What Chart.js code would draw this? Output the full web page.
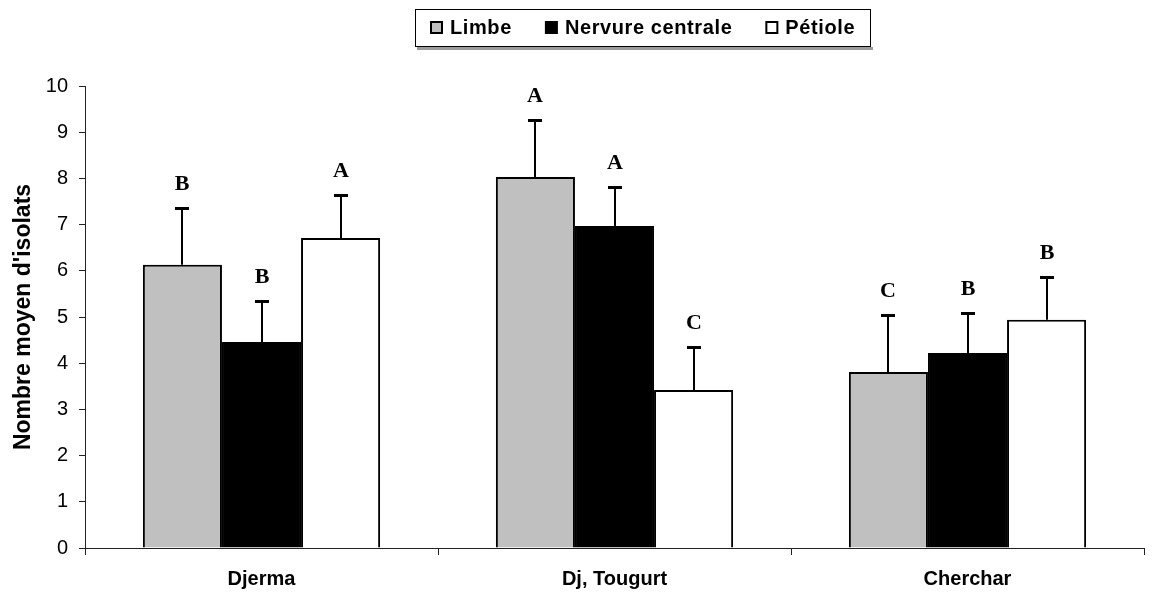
<!DOCTYPE html>
<html>
<head>
<meta charset="utf-8">
<script src="https://cdn.jsdelivr.net/npm/chart.js@4.4.1/dist/chart.umd.min.js"></script>
<style>
  html, body { margin: 0; padding: 0; background: #ffffff; }
  #wrap { width: 1158px; height: 595px; }
</style>
</head>
<body>
<div id="wrap"><canvas id="chart" width="1158" height="595"></canvas></div>
<script>
// Sites sampled and the three leaf parts analysed
const categories = ['Djerma', 'Dj, Tougurt', 'Cherchar'];
const seriesNames = ['Limbe', 'Nervure centrale', 'Pétiole'];

// Mean number of isolates per leaf part
const limbe = [6.13, 8.03, 3.81];
const nervure = [4.46, 6.97, 4.22];
const petiole = [6.71, 3.42, 4.94];

// Upper error (standard deviation) for each mean
const limbeErr = [1.23, 1.23, 1.23];
const nervureErr = [0.89, 0.84, 0.87];
const petioleErr = [0.93, 0.93, 0.93];

// Homogeneous-group letters printed above each bar
const limbeGroups = ['B', 'A', 'C'];
const nervureGroups = ['B', 'A', 'B'];
const petioleGroups = ['A', 'C', 'B'];

// Value axis tick labels
const yTicks = [0, 1, 2, 3, 4, 5, 6, 7, 8, 9, 10];

const SANS = '"Liberation Sans", Arial, sans-serif';
const SERIF = '"Liberation Serif", "Times New Roman", serif';

// Upper error whiskers and group letters drawn over the bars
const errorBarPlugin = {
  id: 'errorBars',
  afterDatasetsDraw(chart) {
    const ctx = chart.ctx;
    const yScale = chart.scales.y;
    chart.data.datasets.forEach((ds, i) => {
      const meta = chart.getDatasetMeta(i);
      meta.data.forEach((bar, j) => {
        const v = ds.data[j];
        const x = Math.round(bar.x);
        const yTop = yScale.getPixelForValue(v);
        const yCap = Math.round(yScale.getPixelForValue(v + ds.errors[j]));
        ctx.save();
        ctx.strokeStyle = '#000';
        ctx.lineWidth = 2;
        ctx.beginPath();
        ctx.moveTo(x, yTop);
        ctx.lineTo(x, yCap);
        ctx.stroke();
        ctx.lineWidth = 3;
        ctx.beginPath();
        ctx.moveTo(x - 7, yCap + 0.5);
        ctx.lineTo(x + 7, yCap + 0.5);
        ctx.stroke();
        ctx.fillStyle = '#000';
        ctx.font = 'bold 22px ' + SERIF;
        ctx.textAlign = 'center';
        ctx.textBaseline = 'middle';
        ctx.fillText(ds.groups[j], x, yCap - 24);
        ctx.restore();
      });
    });
  }
};

// Boxed legend with a soft shadow under it
const legendBoxPlugin = {
  id: 'legendBox',
  afterDraw(chart) {
    const ctx = chart.ctx;
    const items = chart.data.datasets;
    ctx.save();
    ctx.font = 'bold 20px ' + SANS;
    ctx.letterSpacing = '0.6px';
    const sw = 11, gapText = 8, gapItem = 34, padX = 16;
    const widths = items.map(ds => ctx.measureText(ds.label).width);
    let total = 0;
    widths.forEach((w, k) => { total += sw + gapText + w + (k ? gapItem : 0); });
    const boxW = Math.round(total + padX * 2);
    const cx = 643;
    const left = Math.round(cx - boxW / 2);
    const top = 9, bottom = 47;
    ctx.fillStyle = '#9a9a9a';
    ctx.fillRect(left + 2, bottom, boxW, 3);
    ctx.fillStyle = '#fff';
    ctx.fillRect(left, top, boxW, bottom - top);
    ctx.strokeStyle = '#000';
    ctx.lineWidth = 1;
    ctx.strokeRect(left + 0.5, top + 0.5, boxW - 1, bottom - top - 1);
    let x = left + padX;
    const cy = 27;
    items.forEach((ds, k) => {
      ctx.fillStyle = ds.backgroundColor;
      ctx.fillRect(x, cy - 5, sw, sw);
      ctx.strokeStyle = '#000';
      ctx.lineWidth = 2;
      ctx.strokeRect(x, cy - 5, sw, sw);
      ctx.fillStyle = '#000';
      ctx.textAlign = 'left';
      ctx.textBaseline = 'middle';
      ctx.fillText(ds.label, x + sw + gapText, cy + 1);
      x += sw + gapText + widths[k] + gapItem;
    });
    ctx.restore();
  }
};

const ctx = document.getElementById('chart').getContext('2d');
new Chart(ctx, {
  type: 'bar',
  data: {
    labels: categories,
    datasets: [
      { label: seriesNames[0], data: limbe, errors: limbeErr, groups: limbeGroups,
        backgroundColor: '#c0c0c0', borderColor: '#000', borderWidth: 2 },
      { label: seriesNames[1], data: nervure, errors: nervureErr, groups: nervureGroups,
        backgroundColor: '#000000', borderColor: '#000', borderWidth: 2 },
      { label: seriesNames[2], data: petiole, errors: petioleErr, groups: petioleGroups,
        backgroundColor: '#ffffff', borderColor: '#000', borderWidth: 2 }
    ]
  },
  options: {
    responsive: false,
    animation: false,
    devicePixelRatio: 1,
    layout: { padding: { left: 0, right: 14, top: 86, bottom: 0 } },
    datasets: { bar: { categoryPercentage: 0.672, barPercentage: 1.0 } },
    plugins: {
      legend: { display: false },
      tooltip: { enabled: false }
    },
    scales: {
      x: {
        offset: true,
        grid: { display: true, offset: true, drawOnChartArea: false, drawTicks: true,
                tickLength: 7, color: '#222', lineWidth: 1 },
        border: { display: true, color: '#222', width: 1 },
        ticks: { color: '#000', font: { family: SANS, size: 20, weight: 'bold' }, padding: 12,
                 maxRotation: 0 },
        afterFit(scale) { scale.height = 47; }
      },
      y: {
        min: 0,
        max: 10,
        afterBuildTicks(scale) { scale.ticks = yTicks.map(v => ({ value: v })); },
        grid: { display: true, drawOnChartArea: false, drawTicks: true, tickLength: 6,
                color: '#222', lineWidth: 1 },
        border: { display: true, color: '#222', width: 1 },
        ticks: { color: '#000', font: { family: SANS, size: 20 }, padding: 11 },
        title: {
          display: true,
          text: "Nombre moyen d'isolats",
          color: '#000',
          font: { family: SANS, size: 23, weight: 'bold' },
          padding: { top: 10, bottom: 0 }
        },
        afterFit(scale) { scale.width = 85; }
      }
    }
  },
  plugins: [errorBarPlugin, legendBoxPlugin]
});
</script>
</body>
</html>
